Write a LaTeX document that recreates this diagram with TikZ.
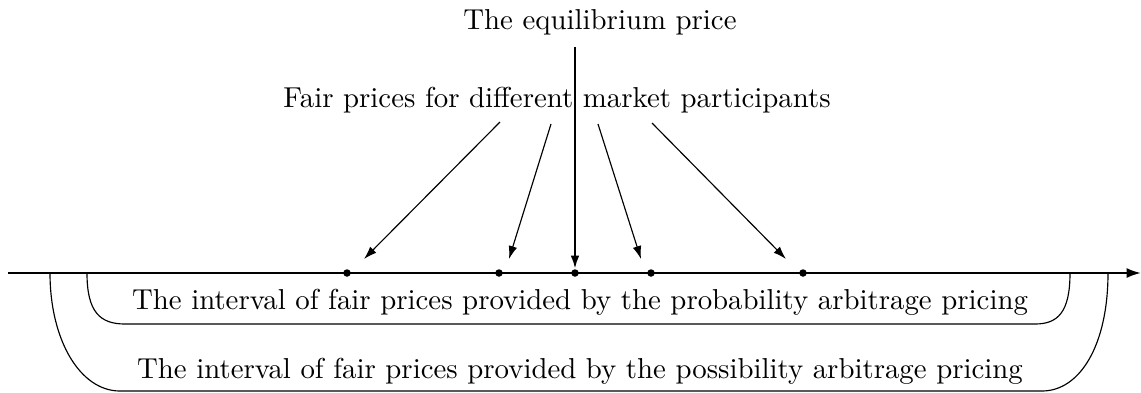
\documentclass[tikz,border=0pt]{standalone}
\usetikzlibrary{arrows.meta}
\begin{document}
\begin{tikzpicture}[x=0.347pt,y=-0.347pt,
  axisline/.style={line width=0.75pt},
  thinarrow/.style={line width=0.4pt,-{Latex[length=4.5pt,width=3pt]}},
  thickarrow/.style={line width=0.75pt,-{Latex[length=4.5pt,width=3pt]}},
  bracketline/.style={line width=0.4pt},
  dot/.style={circle,fill,inner sep=0pt,minimum size=2.6pt},
  lbl/.style={inner sep=0pt,font=\fontsize{10}{12}\selectfont}]
\useasboundingbox (0,0) rectangle (1141,392);
% labels
\node[lbl] (eq) at (600,22) {The equilibrium price};
\node[lbl] (fair) at (557,100) {Fair prices for different market participants};
\node[lbl] (prob) at (580,302) {The interval of fair prices provided by the probability arbitrage pricing};
\node[lbl] (poss) at (580,371) {The interval of fair prices provided by the possibility arbitrage pricing};
% axis
\coordinate (axL) at (8,273);
\coordinate (axR) at (1141,273);
\draw[axisline,-{Latex[length=5pt,width=3.5pt]}] (axL) -- (axR);
% dots
\node[dot] (d1) at (347,273) {};
\node[dot] (d2) at (499,273) {};
\node[dot] (d3) at (575,273) {};
\node[dot] (d4) at (651,273) {};
\node[dot] (d5) at (803,273) {};
% arrow starts and ends
\coordinate (s1) at (500,122);
\coordinate (s2) at (551,124);
\coordinate (s3) at (575,47);
\coordinate (s4) at (598,124);
\coordinate (s5) at (652,123);
\coordinate (e1) at (364,259);
\coordinate (e2) at (509,259);
\coordinate (e4) at (641,259);
\coordinate (e5) at (786,259);
\draw[thinarrow] (s1) -- (e1);
\draw[thinarrow] (s2) -- (e2);
\draw[thickarrow] (s3) -- (d3.north);
\draw[thinarrow] (s4) -- (e4);
\draw[thinarrow] (s5) -- (e5);
% brackets
\coordinate (iL) at (87,273);
\coordinate (iR) at (1070,273);
\coordinate (oL) at (50,273);
\coordinate (oR) at (1108,273);
\draw[bracketline] (iL) .. controls (87,312) and (100,324) .. (125,324) -- (1035,324) .. controls (1058,324) and (1070,312) .. (iR);
\draw[bracketline] (oL) .. controls (50,340) and (80,391) .. (120,391) -- (1042,391) .. controls (1080,391) and (1108,345) .. (oR);
\end{tikzpicture}
\end{document}
